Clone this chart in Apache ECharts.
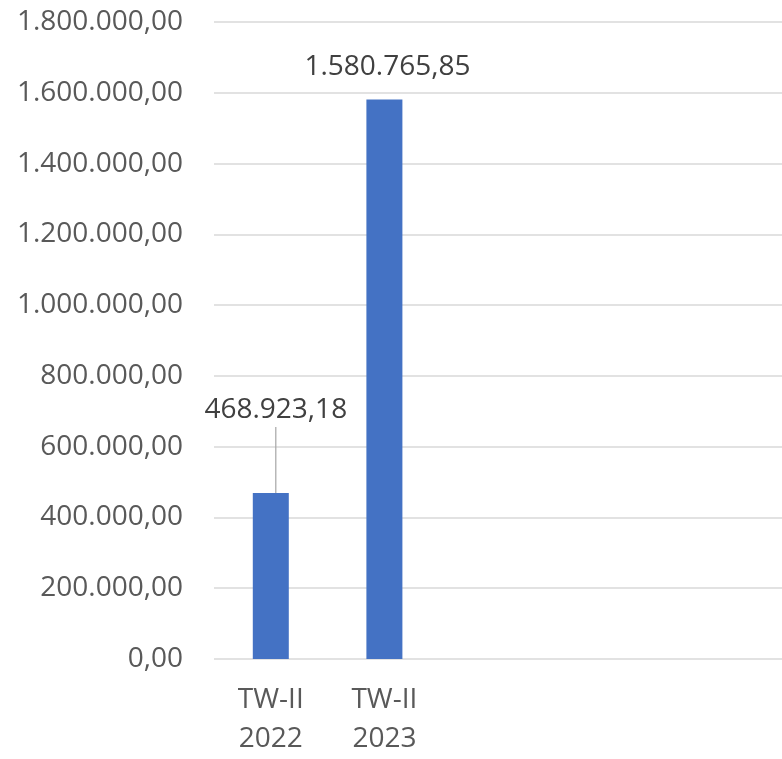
<!DOCTYPE html>
<html>
<head>
<meta charset="utf-8">
<script src="https://cdn.jsdelivr.net/npm/echarts@6/dist/echarts.min.js"></script>
<style>
  html, body { margin: 0; padding: 0; background: #fff; }
  #chart { width: 782px; height: 759px; }
</style>
</head>
<body>
<div id="chart"></div>
<script>
  // data
  const categories = ['TW-II\n2022', 'TW-II\n2023'];
  const values = [468923.18, 1580765.85];
  const yTicks = [0, 200000, 400000, 600000, 800000, 1000000, 1200000, 1400000, 1600000, 1800000];

  // 1234567.8 -> "1.234.567,80"
  function fmt(v) {
    const parts = Number(v).toFixed(2).split('.');
    const intPart = parts[0].replace(/\B(?=(\d{3})+(?!\d))/g, '.');
    return intPart + ',' + parts[1];
  }

  const chart = echarts.init(document.getElementById('chart'));
  chart.setOption({
    animation: false,
    textStyle: { fontFamily: '"Open Sans", "Noto Sans", sans-serif' },
    grid: { left: 214, right: -10, top: 22, bottom: 93 },
    xAxis: {
      type: 'category',
      data: categories,
      max: 4,
      axisLine: { show: false },
      axisTick: { show: false },
      axisLabel: { color: '#595959', fontSize: 28, lineHeight: 39, margin: 22 }
    },
    yAxis: {
      type: 'value',
      min: yTicks[0],
      max: yTicks[yTicks.length - 1],
      interval: 200000,
      axisLine: { show: false },
      axisTick: { show: false },
      axisLabel: { color: '#595959', fontSize: 28, margin: 31, formatter: fmt },
      splitLine: { lineStyle: { color: '#d9d9d9', width: 1.5 } }
    },
    series: [{
      type: 'bar',
      // only the first label is pulled up with a leader line
      data: values.map((v, i) => ({ value: v, labelLine: { show: i === 0 } })),
      barWidth: 36,
      itemStyle: { color: '#4472C4' },
      label: {
        show: true,
        position: 'top',
        distance: 16,
        color: '#404040',
        fontSize: 28,
        lineHeight: 34,
        formatter: p => fmt(p.value)
      },
      labelLayout: function (params) {
        if (params.dataIndex === 0) return { dx: 5, dy: -50 };
        return { dx: 3 };
      },
      labelLine: { show: true, length2: 0, lineStyle: { color: '#a6a6a6', width: 1.2 } }
    }]
  });
</script>
</body>
</html>
